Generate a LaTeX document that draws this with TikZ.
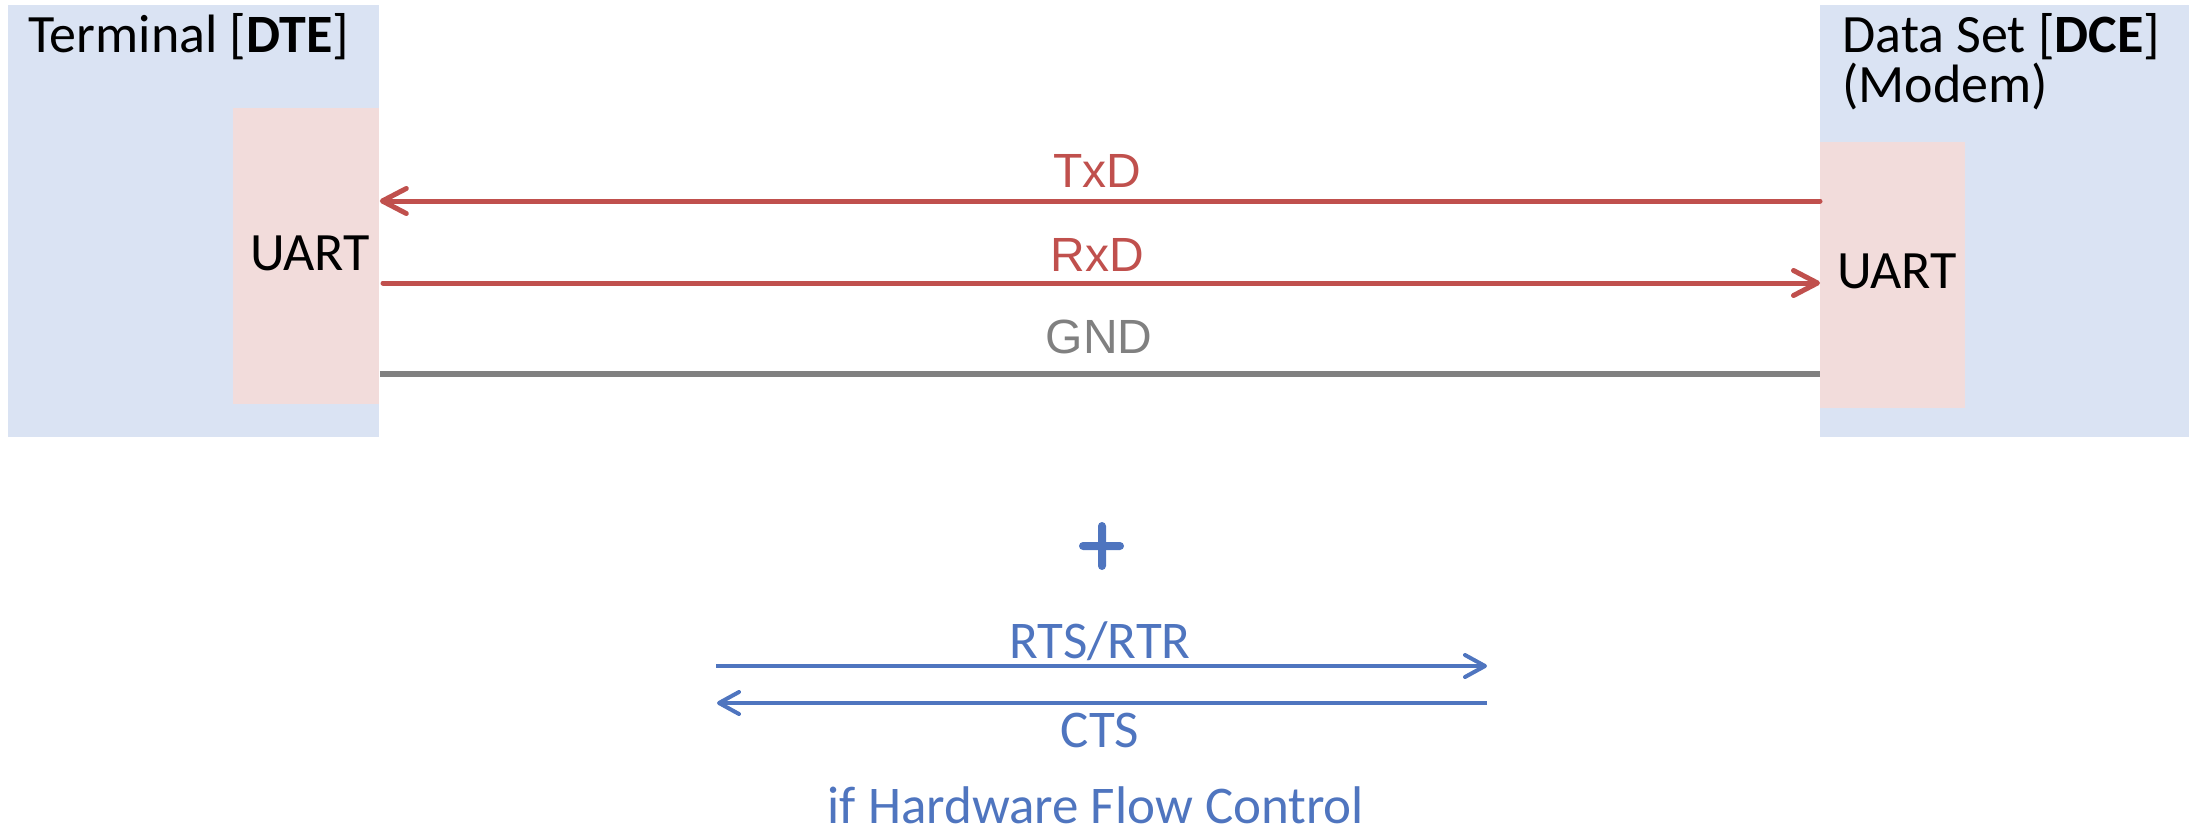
\documentclass[tikz,border=0pt]{standalone}
\usepackage{fontspec}
\setmainfont{Carlito}
\newfontfamily\arialfont{Liberation Sans}
\usetikzlibrary{arrows.meta}

\definecolor{boxblue}{HTML}{DAE3F3}
\definecolor{boxpink}{HTML}{F2DCDB}
\definecolor{sigred}{HTML}{C0504D}
\definecolor{siggray}{HTML}{808080}
\definecolor{flowblue}{HTML}{4F75BF}

\tikzset{
  x=0.5pt, y=-0.5pt,
  device/.style={fill=boxblue, draw=none, inner sep=0pt, anchor=north west},
  uartbox/.style={fill=boxpink, draw=none, inner sep=0pt, anchor=north west},
  title/.style={font=\fontsize{27pt}{25pt}\selectfont, inner sep=0pt, anchor=base west},
  uarttext/.style={font=\fontsize{27pt}{32pt}\selectfont, inner sep=0pt, anchor=base},
  siglabel/.style={font=\arialfont\fontsize{24pt}{28pt}\selectfont, inner sep=0pt, anchor=base},
  flowlabel/.style={font=\fontsize{26.5pt}{30pt}\selectfont, text=flowblue, inner sep=0pt, text depth=0pt, anchor=base},
  redwire/.style={draw=sigred, line width=2.5pt, line cap=round},
  redtip/.style={-{Straight Barb[length=12pt,width=12.5pt,round]}},
  flowwire/.style={draw=flowblue, line width=2pt},
  flowtip/.style={-{Straight Barb[length=10pt,width=11pt,round]}},
}

\begin{document}
\begin{tikzpicture}
\useasboundingbox (0,0) rectangle (2189,829);

% devices
\node[device, minimum width=185.5pt, minimum height=216pt] (dte) at (8,5) {};
\node[device, minimum width=184.5pt, minimum height=216pt] (dce) at (1820,5) {};

% UART blocks
\node[uartbox, minimum width=73pt, minimum height=148pt] (dteUart) at (233,108) {};
\node[uartbox, minimum width=72.5pt, minimum height=133pt] (dceUart) at (1820,142) {};

% titles
\node[title] (dteTitle) at (28,53) {Terminal [\textbf{DTE}]};
\node[title] (dceTitle) at (1842,53) {Data Set [\textbf{DCE}]};
\node[title] (dceSub) at (1842,103) {(Modem)};

\node[uarttext] (dteUartText) at (310,270) {UART};
\node[uarttext] (dceUartText) at (1897,288) {UART};

% signal rows
\coordinate (txdRow) at (0,201);
\coordinate (rxdRow) at (383,283);
\coordinate (gndRow) at (0,374);

\draw[redwire, redtip] (dceUart.west |- txdRow) -- (dteUart.east |- txdRow);
\draw[redwire, redtip] (rxdRow) -- (dceUart.west |- rxdRow);
\draw[draw=siggray, line width=3pt] (dteUart.east |- gndRow) -- (dceUart.west |- gndRow);

\node[siglabel, text=sigred] (txd) at (1097,187) {TxD};
\node[siglabel, text=sigred] (rxd) at (1097,271) {RxD};
\node[siglabel, text=siggray] (gnd) at (1099,353) {GND};

% optional hardware flow control
\fill[flowblue, rounded corners=2pt] (1079,542) rectangle (1124,550);
\fill[flowblue, rounded corners=2pt] (1098,522) rectangle (1106,570);

\coordinate (rtsA) at (716,666);
\coordinate (rtsB) at (1487,666);
\coordinate (ctsA) at (1487,703);
\coordinate (ctsB) at (717,703);
\draw[flowwire, flowtip] (rtsA) -- (rtsB);
\draw[flowwire, flowtip] (ctsA) -- (ctsB);

\node[flowlabel] (rts) at (1100,658) {RTS/RTR};
\node[flowlabel] (cts) at (1100,747) {CTS};
\node[flowlabel] (hwfc) at (1096,823) {if Hardware Flow Control};
\end{tikzpicture}
\end{document}
